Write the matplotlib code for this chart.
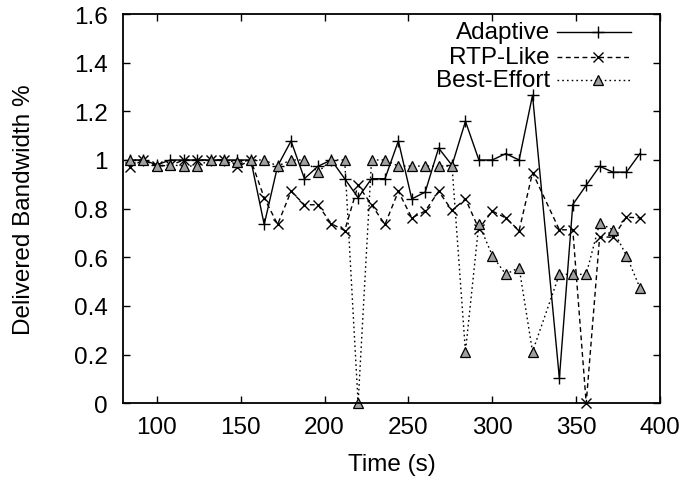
import matplotlib
matplotlib.use("Agg")
import matplotlib.pyplot as plt
from matplotlib.lines import Line2D

plt.rcParams['font.family'] = ['Liberation Sans', 'DejaVu Sans']

time_s = [84, 92, 100, 108, 116, 124, 132, 140, 148, 156, 164, 172, 180, 188, 196,
          204, 212, 220, 228, 236, 244, 252, 260, 268, 276, 284, 292, 300, 308, 316,
          324, 340, 348, 356, 364, 372, 380, 388]

adaptive = [1.00, 1.00, 0.98, 1.00, 1.00, 1.00, 1.00, 1.00, 1.00, 1.00, 0.735, 0.975, 1.078, 0.923, 0.974,
            1.00, 0.923, 0.845, 0.923, 0.923, 1.078, 0.84, 0.868, 1.049, 0.978, 1.159, 1.00, 1.00, 1.026, 1.00,
            1.266, 0.103, 0.817, 0.896, 0.974, 0.95, 0.95, 1.026]

rtp_like = [0.971, 1.00, 0.975, 0.978, 1.00, 1.00, 1.00, 1.00, 0.971, 1.00, 0.845, 0.735, 0.871, 0.816, 0.816,
            0.738, 0.71, 0.896, 0.816, 0.735, 0.871, 0.762, 0.79, 0.871, 0.793, 0.84, 0.717, 0.79, 0.762, 0.71,
            0.948, 0.713, 0.713, 0.0, 0.683, 0.683, 0.765, 0.762]

best_effort = [1.00, 1.00, 0.975, 0.98, 0.975, 0.975, 1.00, 1.00, 0.99, 1.00, 1.00, 0.975, 1.00, 1.00, 0.95,
               1.00, 1.00, 0.0, 1.00, 1.00, 0.975, 0.975, 0.975, 0.975, 0.975, 0.212, 0.738, 0.607, 0.53, 0.558,
               0.212, 0.53, 0.53, 0.53, 0.74, 0.713, 0.607, 0.475]

series_labels = ["Adaptive", "RTP-Like", "Best-Effort"]
x_ticks = [100, 150, 200, 250, 300, 350, 400]
y_ticks = [0, 0.2, 0.4, 0.6, 0.8, 1.0, 1.2, 1.4, 1.6]
y_tick_labels = ["0", "0.2", "0.4", "0.6", "0.8", "1", "1.2", "1.4", "1.6"]

FS = 17.5

fig = plt.figure(figsize=(6.84, 4.81), dpi=100)
ax = fig.add_axes([0.1803, 0.1595, 0.7846, 0.8093])

styles = [
    dict(color='black', lw=1.0, linestyle='-', marker='+', markersize=9, mew=1.0),
    dict(color='black', lw=1.0, linestyle=(0, (3.5, 2.5)), marker='x', markersize=7.5, mew=1.0),
    dict(color='black', lw=1.0, linestyle=(0, (1.2, 2.2)), marker='^', markersize=6.5, mew=0.9,
         markerfacecolor='#a0a0a0', markeredgecolor='black'),
]

for ys, st in zip([adaptive, rtp_like, best_effort], styles):
    ax.plot(time_s, ys, clip_on=False, **st)

ax.set_xlim(80, 400)
ax.set_ylim(0, 1.6)
ax.set_xticks(x_ticks)
ax.set_yticks(y_ticks)
ax.set_yticklabels(y_tick_labels)
ax.tick_params(direction='in', length=5, width=1, top=True, right=True,
               labelsize=FS, pad=9)
ax.tick_params(axis='y', pad=11)
for sp in ax.spines.values():
    sp.set_linewidth(1.3)

xl = ax.set_xlabel("Time (s)", fontsize=FS)
yl = ax.set_ylabel("Delivered Bandwidth %", fontsize=FS)
xl.set_verticalalignment('center')
yl.set_verticalalignment('center')
ax.xaxis.set_label_coords(0.5, -0.157)
ax.yaxis.set_label_coords(-0.186, 0.5)

# legend (gnuplot style: right-aligned text, sample to the right)
leg_y = [0.953, 0.889, 0.830]
for lbl, st, yy in zip(series_labels, styles, leg_y):
    ax.text(0.795, yy, lbl, transform=ax.transAxes, ha='right', va='center', fontsize=FS)
    st2 = dict(st)
    mk = st2.pop('marker')
    ax.add_line(Line2D([0.808, 0.946], [yy, yy], transform=ax.transAxes, marker='None',
                       color='black', lw=st2['lw'], linestyle=st2['linestyle']))
    extra = {k: v for k, v in st2.items() if k in ('markerfacecolor', 'markeredgecolor')}
    ax.add_line(Line2D([0.8845], [yy], transform=ax.transAxes, marker=mk, linestyle='None',
                       color='black', markersize=st2['markersize'], mew=st2['mew'], **extra))

fig.savefig("out.png", dpi=100)
